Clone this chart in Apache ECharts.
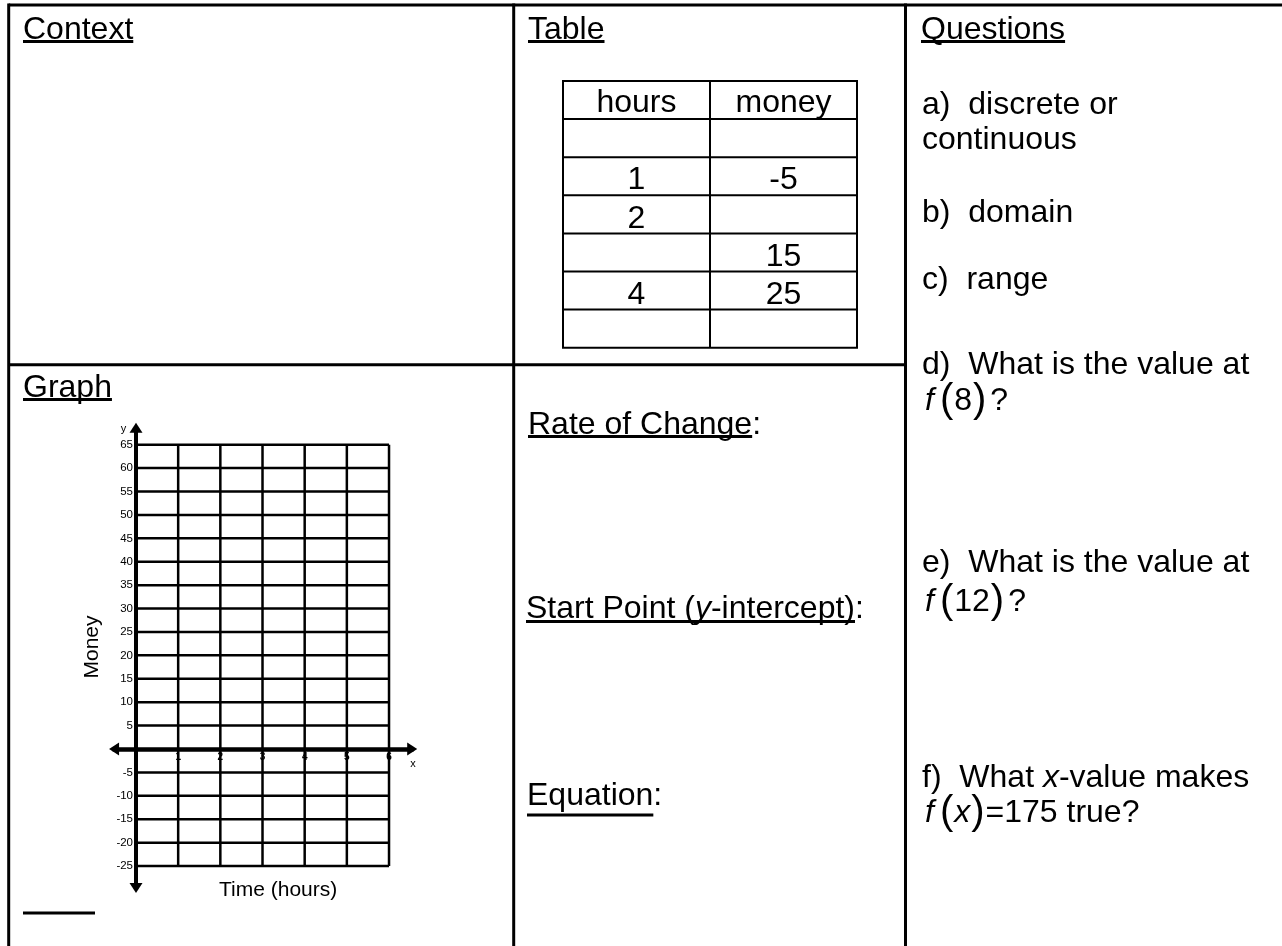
<!DOCTYPE html>
<html>
<head>
    <meta charset="utf-8">
    <title>Worksheet</title>
    <script src="https://cdn.jsdelivr.net/npm/echarts@6/dist/echarts.min.js"></script>
    <style>
        html, body { margin: 0; padding: 0; background: #fff; }
        #main { width: 1282px; height: 946px; }
    </style>
</head>
<body>
<div id="main"></div>
<script>
    // table values, blank cells are left empty
    var tableHeader = ['hours', 'money'];
    var tableHours = ['', '1', '2', '', '4', ''];
    var tableMoney = ['', '-5', '', '15', '25', ''];

    // graph paper ticks
    var xTicks = [1, 2, 3, 4, 5, 6];
    var yTicks = [-25, -20, -15, -10, -5, 5, 10, 15, 20, 25, 30, 35, 40, 45, 50, 55, 60, 65];
    var paperX = [0, 6];
    var paperY = [-25, 65];

    var FONT = "'Liberation Sans', Arial, Helvetica, sans-serif";
    var BIG = 32;

    // where the origin of the graph sits and how big one unit is
    var ox = 136, oy = 749, ux = 42.17, uy = 4.6815;
    var xMin = -0.52, xMax = 6.55, yMin = -29.7, yMax = 68.6;

    var ctx = document.createElement('canvas').getContext('2d');
    function textWidth(s, size, italic) {
        ctx.font = (italic ? 'italic ' : '') + size + 'px ' + FONT;
        return ctx.measureText(s).width;
    }

    function line(x1, y1, x2, y2, w) {
        return {
            type: 'line', silent: true,
            shape: {x1: x1, y1: y1, x2: x2, y2: y2},
            style: {stroke: '#000', lineWidth: w}
        };
    }

    // base = baseline of the text
    function text(x, base, str, size, extra) {
        size = size || BIG;
        var style = {
            text: str, fontSize: size, fontFamily: FONT, fill: '#000',
            align: 'left', verticalAlign: 'middle'
        };
        for (var k in extra) style[k] = extra[k];
        return {type: 'text', x: x, y: base - size * 0.205, silent: true, style: style};
    }

    var rich = {
        n: {fontSize: BIG, fontFamily: FONT, color: '#000'},
        q: {fontSize: BIG, fontFamily: FONT, color: '#000', padding: [0, 0, 0, 3]},
        i: {fontSize: BIG, fontFamily: FONT, fontStyle: 'italic', color: '#000'},
        f: {fontSize: BIG, fontFamily: FONT, fontStyle: 'italic', color: '#000', padding: [0, 5, 0, 0]},
        p: {fontSize: 40, fontFamily: FONT, color: '#000', padding: [0, 1, 0, 1]}
    };

    var g = [];

    // page frame
    g.push(line(8.7, 5, 1282, 5, 3));
    g.push(line(8.7, 3.5, 8.7, 946, 3));
    g.push(line(513.7, 3.5, 513.7, 946, 3));
    g.push(line(905.5, 3.5, 905.5, 946, 3));
    g.push(line(8.7, 364.7, 905.5, 364.7, 3));

    // headings with underline
    [['Context', 23, 37], ['Table', 528, 37], ['Questions', 921, 37], ['Graph', 23, 395]].forEach(function (h) {
        g.push(text(h[1], h[2], h[0]));
        g.push(line(h[1], h[2] + 4.5, h[1] + textWidth(h[0], BIG), h[2] + 4.5, 3));
    });

    // the hours / money table
    var tx = [563, 710, 857], ty0 = 81, rowH = 38.1;
    var rows = [tableHeader].concat(tableHours.map(function (h, i) { return [h, tableMoney[i]]; }));
    for (var r = 0; r <= rows.length; r++) {
        g.push(line(tx[0] - 1, ty0 + r * rowH, tx[2] + 1, ty0 + r * rowH, 2));
    }
    tx.forEach(function (x) { g.push(line(x, ty0, x, ty0 + rows.length * rowH, 2)); });
    rows.forEach(function (row, r) {
        var base = ty0 + r * rowH + (r === 0 ? 29 : 30);
        row.forEach(function (v, c) {
            if (v !== '') g.push(text((tx[c] + tx[c + 1]) / 2, base, v, BIG, {align: 'center'}));
        });
    });

    // middle column prompts
    g.push(text(528, 432, 'Rate of Change:'));
    g.push(line(528, 436.5, 528 + textWidth('Rate of Change', BIG), 436.5, 3));
    g.push(text(526, 615.5, '{n|Start Point (}{i|y}{n|-intercept):}', BIG, {rich: rich}));
    var spW = textWidth('Start Point (', BIG) + textWidth('y', BIG, true) + textWidth('-intercept)', BIG);
    g.push(line(526, 621.5, 526 + spW, 621.5, 3));
    g.push(text(527, 802.5, 'Equation:'));
    g.push(line(527, 815, 527 + textWidth('Equation', BIG), 815, 3));

    // questions
    var qx = 922;
    g.push(text(qx, 112, 'a)  discrete or'));
    g.push(text(qx, 147, 'continuous'));
    g.push(text(qx, 220, 'b)  domain'));
    g.push(text(qx, 287, 'c)  range'));
    g.push(text(qx, 372, 'd)  What is the value at'));
    g.push(text(qx + 3, 408, '{f|f}{p|(}{n|8}{p|)}{q|?}', BIG, {rich: rich}));
    g.push(text(qx, 570, 'e)  What is the value at'));
    g.push(text(qx + 3, 609, '{f|f}{p|(}{n|12}{p|)}{q|?}', BIG, {rich: rich}));
    g.push(text(qx, 785, '{n|f)  What }{i|x}{n|-value makes}', BIG, {rich: rich}));
    g.push(text(qx + 3, 820, '{f|f}{p|(}{i|x}{p|)}{n|=175 true?}', BIG, {rich: rich}));

    // graph captions
    g.push(text(123.5, 431.5, 'y', 11, {align: 'center'}));
    g.push(text(413, 766, 'x', 11, {align: 'center'}));
    g.push(text(219, 894.5, 'Time (hours)', 21));
    g.push({
        type: 'text', x: 92, y: 647, rotation: Math.PI / 2, silent: true,
        style: {text: 'Money', fontSize: 21, fontFamily: FONT, fill: '#000', align: 'center', verticalAlign: 'middle'}
    });

    // short answer line at the bottom left
    g.push(line(23, 913, 95, 913, 3));

    // grid paper segments built from the ticks
    var paper = [];
    xTicks.forEach(function (x) { paper.push([x, paperY[0], x, paperY[1]]); });
    yTicks.forEach(function (y) { paper.push([paperX[0], y, paperX[1], y]); });

    var chart = echarts.init(document.getElementById('main'));
    var option = {
        animation: false,
        backgroundColor: '#fff',
        grid: {
            left: ox + xMin * ux,
            top: oy - yMax * uy,
            width: (xMax - xMin) * ux,
            height: (yMax - yMin) * uy
        },
        xAxis: {
            type: 'value', min: xMin, max: xMax,
            position: 'bottom',
            offset: yMin * uy,   // lift the axis up to y = 0
            splitLine: {show: false},
            axisTick: {show: false},
            axisLine: {
                onZero: false, symbol: ['triangle', 'triangle'], symbolSize: [13, 10],
                lineStyle: {color: '#000', width: 4.5}
            },
            axisLabel: {
                customValues: xTicks, fontSize: 10, fontWeight: 'bold',
                fontFamily: FONT, color: '#000', margin: 3
            }
        },
        yAxis: {
            type: 'value', min: yMin, max: yMax,
            position: 'left',
            offset: xMin * ux,   // shift the axis right to x = 0
            splitLine: {show: false},
            axisTick: {show: false},
            axisLine: {
                onZero: false, symbol: ['triangle', 'triangle'], symbolSize: [13, 10],
                lineStyle: {color: '#000', width: 4}
            },
            axisLabel: {customValues: yTicks, fontSize: 11.5, fontFamily: FONT, color: '#000', margin: 3}
        },
        series: [{
            type: 'custom',
            coordinateSystem: 'cartesian2d',
            silent: true,
            encode: {x: [0, 2], y: [1, 3]},
            data: paper,
            renderItem: function (params, api) {
                var a = api.coord([api.value(0), api.value(1)]);
                var b = api.coord([api.value(2), api.value(3)]);
                return {
                    type: 'line',
                    shape: {x1: a[0], y1: a[1], x2: b[0], y2: b[1]},
                    style: {stroke: '#000', lineWidth: 2.5}
                };
            }
        }],
        graphic: g
    };
    chart.setOption(option);
</script>
</body>
</html>
